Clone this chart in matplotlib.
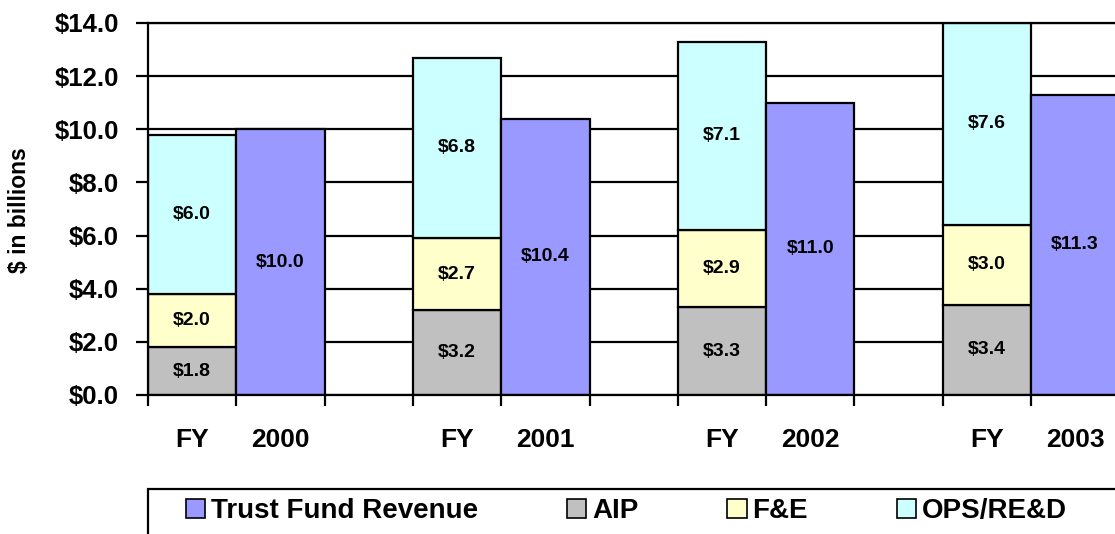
import matplotlib
matplotlib.use("Agg")
import matplotlib.pyplot as plt
from matplotlib.patches import Patch, Rectangle
from matplotlib.ticker import FixedLocator, NullFormatter

plt.rcParams['font.family'] = ['Liberation Sans', 'DejaVu Sans']
plt.rcParams['font.weight'] = 'bold'

# values in $ billions
years = ['2000', '2001', '2002', '2003']
aip = [1.8, 3.2, 3.3, 3.4]
fe = [2.0, 2.7, 2.9, 3.0]
ops = [6.0, 6.8, 7.1, 7.6]
revenue = [10.0, 10.4, 11.0, 11.3]

c_rev = '#9999FF'
c_aip = '#C0C0C0'
c_fe = '#FFFFCC'
c_ops = '#CCFFFF'

W, H = 1115, 534
fig = plt.figure(figsize=(W / 100, H / 100), dpi=100)
ax = fig.add_axes([148 / W, 1 - 395 / H, (W - 148) / W, 372 / H])

# each year takes 3 slots: stacked bar, revenue bar, gap
stack_x = [3 * i + 0.5 for i in range(len(years))]
rev_x = [3 * i + 1.5 for i in range(len(years))]

edge = dict(edgecolor='black', linewidth=1.6, width=1.0, zorder=2)
fe_bottom = aip
ops_bottom = [a + f for a, f in zip(aip, fe)]
ax.bar(stack_x, aip, color=c_aip, **edge)
ax.bar(stack_x, fe, bottom=fe_bottom, color=c_fe, **edge)
ax.bar(stack_x, ops, bottom=ops_bottom, color=c_ops, **edge)
ax.bar(rev_x, revenue, color=c_rev, **edge)

lbl = dict(ha='center', va='center', fontsize=14, fontweight='bold', zorder=4)
for i in range(len(years)):
    ax.text(stack_x[i], aip[i] / 2, f'${aip[i]:.1f}', **lbl)
    ax.text(stack_x[i], fe_bottom[i] + fe[i] / 2, f'${fe[i]:.1f}', **lbl)
    ax.text(stack_x[i], ops_bottom[i] + ops[i] / 2, f'${ops[i]:.1f}', **lbl)
    ax.text(rev_x[i], revenue[i] / 2, f'${revenue[i]:.1f}', **lbl)

ax.set_ylim(0, 14)
ax.set_xlim(0, (W - 148) / 88.3)
ax.set_yticks([0, 2, 4, 6, 8, 10, 12, 14])
ax.set_yticklabels([f'${v:.1f}' for v in range(0, 15, 2)], fontsize=18.5, fontweight='bold')
ax.yaxis.grid(True, color='black', linewidth=1.6)
ax.set_axisbelow(True)

# major ticks between slots, labels at slot centres
ax.xaxis.set_major_locator(FixedLocator(range(0, 12)))
ax.xaxis.set_major_formatter(NullFormatter())
centers = []
names = []
for i, y in enumerate(years):
    centers += [stack_x[i], rev_x[i]]
    names += ['FY', y]
ax.set_xticks(centers, minor=True)
ax.set_xticklabels(names, minor=True, fontsize=19, fontweight='bold')
ax.tick_params(axis='x', which='major', direction='out', length=8, width=1.6)
ax.tick_params(axis='x', which='minor', length=0, pad=24)
ax.tick_params(axis='y', direction='out', length=9, width=1.6, pad=12)

for side in ['left', 'bottom', 'top']:
    ax.spines[side].set_linewidth(1.6)
ax.spines['right'].set_visible(False)

fig.text(20 / W, 1 - 210 / H, '$ in billions', rotation=90, ha='center', va='center',
         fontsize=16.5, fontweight='bold')

# legend frame runs off the right and bottom of the image
fig.patches.append(Rectangle((148 / W, -0.1), 1.0, (H - 489) / H + 0.1,
                             transform=fig.transFigure, fill=False,
                             edgecolor='black', linewidth=1.6))
handles = [Patch(facecolor=c, edgecolor='black', linewidth=1.2)
           for c in [c_rev, c_aip, c_fe, c_ops]]
fig.legend(handles, ['Trust Fund Revenue', 'AIP', 'F&E', 'OPS/RE&D'],
           loc='center left', bbox_to_anchor=(186 / W, 1 - 511 / H), ncol=4,
           frameon=False, prop={'size': 20, 'weight': 'bold'},
           handlelength=0.7, handleheight=0.7, handletextpad=0.2,
           columnspacing=3.2, borderaxespad=0, borderpad=0)

fig.savefig('out.png', dpi=100)
